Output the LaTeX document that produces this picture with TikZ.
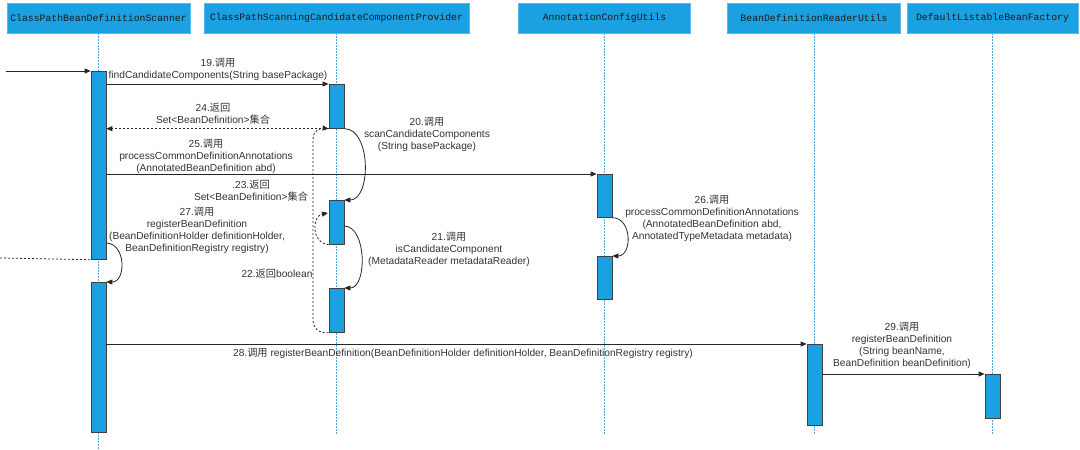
\documentclass[tikz,border=0pt]{standalone}
\usepackage{fontspec}
\setmainfont{Liberation Sans}
\newfontfamily\cjk{Noto Sans CJK SC}
\newfontfamily\hdrfont{Liberation Mono}
\usetikzlibrary{arrows.meta}
\newcommand{\zh}[1]{{\cjk #1}}
\definecolor{actblue}{HTML}{1BA1E2}
\definecolor{hdrborder}{HTML}{5DB8EA}
\definecolor{lifeblue}{HTML}{4FA8E0}
\definecolor{txtgray}{HTML}{333333}
\definecolor{hdrtxt}{HTML}{1A1A1A}
\begin{document}
\begin{tikzpicture}[x=1pt,y=-1pt,
  hdr/.style={draw=hdrborder, fill=actblue, minimum height=30pt, inner sep=0pt,
    font=\hdrfont\fontsize{9.8}{11}\selectfont, text=hdrtxt},
  life/.style={draw=lifeblue, line width=0.9pt, dash pattern=on 1.5pt off 1.5pt},
  act/.style={draw=black!75, fill=actblue, line width=0.7pt, minimum width=15pt, inner sep=0pt, anchor=north},
  msg/.style={draw=black!85, line width=0.8pt, -{Triangle[length=6pt,width=5pt]}},
  ret/.style={msg, dash pattern=on 2pt off 2pt},
  retplain/.style={draw=black!85, line width=0.8pt, dash pattern=on 2pt off 2pt},
  lbl/.style={font=\fontsize{10.2}{12}\selectfont, text=txtgray, align=center, inner sep=0pt}
]
\useasboundingbox (0,0) rectangle (1080,450);

% headers
\node[hdr, minimum width=183pt] (h1) at (98.5,18) {ClassPathBeanDefinitionScanner};
\node[hdr, minimum width=265pt] (h2) at (336.5,18) {ClassPathScanningCandidateComponentProvider};
\node[hdr, minimum width=172pt] (h3) at (604.5,18) {AnnotationConfigUtils};
\node[hdr, minimum width=173pt] (h4) at (814,18) {BeanDefinitionReaderUtils};
\node[hdr, minimum width=171pt] (h5) at (992.5,18) {DefaultListableBeanFactory};

% lifeline ends
\coordinate (e1) at (98.5,450);
\coordinate (e2) at (336.5,435);
\coordinate (e3) at (604.5,435);
\coordinate (e4) at (814,435);
\coordinate (e5) at (992.5,435);
\draw[life] (h1.south) -- (e1);
\draw[life] (h2.south) -- (e2);
\draw[life] (h3.south) -- (e3);
\draw[life] (h4.south) -- (e4);
\draw[life] (h5.south) -- (e5);

% activations
\node[act, minimum height=188pt] (s1) at (98.5,71) {};
\node[act, minimum height=150pt] (s2) at (98.5,282) {};
\node[act, minimum height=44pt] (p1) at (336.5,84) {};
\node[act, minimum height=44pt] (p2) at (336.5,200) {};
\node[act, minimum height=44pt] (p3) at (336.5,288) {};
\node[act, minimum height=43pt] (a1) at (604.5,174) {};
\node[act, minimum height=43pt] (a2) at (604.5,256) {};
\node[act, minimum height=81pt] (r1) at (814.5,344) {};
\node[act, minimum height=44pt] (d1) at (992.5,374) {};

% free ends
\coordinate (in0) at (6,71);
\coordinate (ret0) at (0,258);
\coordinate (c22) at (313,127);
\coordinate (c23) at (328,213);
\coordinate (c21) at (344,226);
\coordinate (c27) at (106,243);

% messages
\draw[msg] (in0) -- (s1.north west);
\draw[retplain] (ret0) -- (s1.south west);
\draw[msg] (s1.east |- p1.north) -- (p1.north west);
\draw[ret] (p1.south west) -- (s1.east |- p1.south);
\draw[msg] (p1.south east) .. controls +(27,0) and +(27,0) .. (p2.north east);
\draw[msg] (s1.east |- a1.north) -- (a1.north west);
\draw[ret] (p2.south west) .. controls +(-18,-2) and +(-16,3) .. (c23);
\draw[msg] (c21) .. controls +(23,0) and +(23,0) .. (p3.north east);
\draw[ret, rounded corners=12pt] (p3.south west) -| (c22) -- (p1.south west);
\draw[msg] (c27) .. controls +(20,0) and +(20,0) .. (s2.north east);
\draw[msg] (a1.south east) .. controls +(20,0) and +(20,0) .. (a2.north east);
\draw[msg] (s2.east |- r1.north) -- (r1.north west);
\draw[msg] (r1.east |- d1.north) -- (d1.north west);

% labels
\node[lbl] (l19) at (218,69) {19.\zh{调用}\\findCandidateComponents(String basePackage)};
\node[lbl] (l24) at (213,114) {24.\zh{返回}\\Set<BeanDefinition>\zh{集合}};
\node[lbl] (l20) at (427,134) {20.\zh{调用}\\scanCandidateComponents\\(String basePackage)};
\node[lbl] (l25) at (206,156) {25.\zh{调用}\\processCommonDefinitionAnnotations\\(AnnotatedBeanDefinition abd)};
\node[lbl] (l23) at (251,190.5) {.23.\zh{返回}\\Set<BeanDefinition>\zh{集合}};
\node[lbl] (l27) at (197,230) {27.\zh{调用}\\registerBeanDefinition\\(BeanDefinitionHolder definitionHolder,\\BeanDefinitionRegistry registry)};
\node[lbl] (l21) at (449,249) {21.\zh{调用}\\isCandidateComponent\\(MetadataReader metadataReader)};
\node[lbl] (l22) at (277,274) {22.\zh{返回}boolean};
\node[lbl] (l26) at (712,218.5) {26.\zh{调用}\\processCommonDefinitionAnnotations\\(AnnotatedBeanDefinition abd,\\AnnotatedTypeMetadata metadata)};
\node[lbl] (l28) at (463,353) {28.\zh{调用} registerBeanDefinition(BeanDefinitionHolder definitionHolder, BeanDefinitionRegistry registry)};
\node[lbl] (l29) at (902,345.5) {29.\zh{调用}\\registerBeanDefinition\\(String beanName,\\BeanDefinition beanDefinition)};
\end{tikzpicture}
\end{document}
